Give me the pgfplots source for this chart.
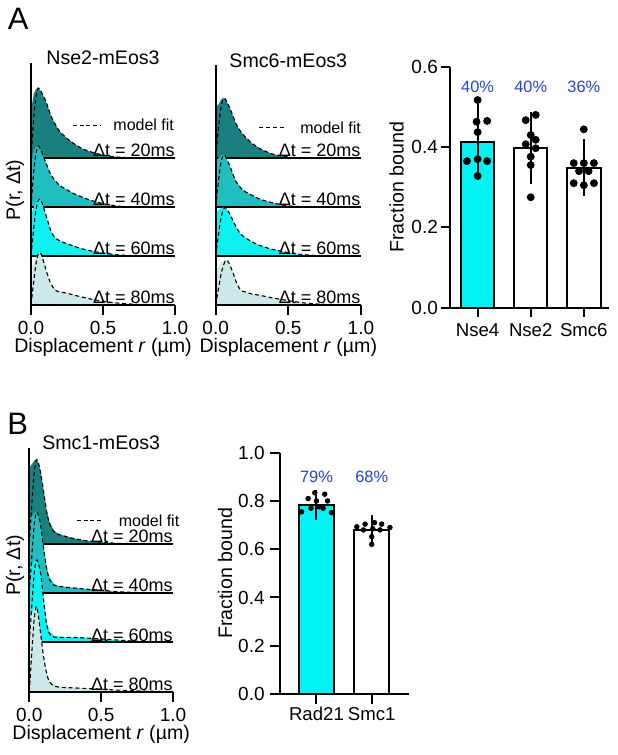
\documentclass[border=0pt]{standalone}
\usepackage{fontspec}
\setmainfont{Liberation Sans}
\usepackage{pgfplots}
\usepackage{pgfplotstable}
\pgfplotsset{compat=1.18}

\definecolor{cA}{HTML}{1A7F7F}
\definecolor{cB}{HTML}{20BEBE}
\definecolor{cC}{HTML}{0FF0F0}
\definecolor{cD}{HTML}{CDE8E8}
\definecolor{barcyan}{HTML}{00F2F2}
\definecolor{pctblue}{HTML}{2244DD}

\newcommand{\fs}[1]{\fontsize{#1}{#1}\selectfont}

% columns: a-d = measured histogram (20,40,60,80 ms), A-D = model fit
\pgfplotstableread{
r      a     b     c     d     A     B     C     D
0      0     0     0     0     0     0     0     0
0.001  1.00  0.90  0.85  0.75  0     0     0     0
0.02   1.32  1.15  1.00  0.85  0.85  0.75  0.60  0.50
0.035  1.41  1.23  1.10  0.97  1.25  1.10  0.95  0.85
0.05   1.43  1.25  1.16  1.05  1.43  1.25  1.13  1.03
0.065  1.38  1.18  1.14  1.06  1.38  1.18  1.16  1.07
0.08   1.30  1.08  1.04  0.95  1.30  1.08  1.06  0.96
0.1    1.18  0.93  0.87  0.76  1.18  0.93  0.87  0.76
0.12   1.02  0.78  0.68  0.57  1.02  0.78  0.68  0.57
0.14   0.85  0.65  0.50  0.42  0.85  0.65  0.50  0.42
0.17   0.68  0.53  0.36  0.30  0.68  0.53  0.36  0.30
0.2    0.54  0.44  0.31  0.27  0.54  0.44  0.31  0.27
0.25   0.40  0.35  0.25  0.24  0.40  0.35  0.25  0.24
0.3    0.29  0.27  0.20  0.20  0.29  0.27  0.20  0.20
0.35   0.20  0.21  0.15  0.165 0.20  0.21  0.15  0.165
0.4    0.14  0.15  0.115 0.13  0.14  0.15  0.115 0.13
0.5    0.06  0.07  0.06  0.075 0.06  0.07  0.06  0.075
0.6    0.02  0.02  0.025 0.04  0.02  0.02  0.025 0.04
0.7    0.005 0.005 0.008 0.018 0.005 0.005 0.008 0.018
0.85   0     0     0     0.004 0     0     0     0.004
1.0    0     0     0     0     0     0     0     0
}\nsetwo

\pgfplotstableread{
r      a     b     c     d     A     B     C     D
0      0     0     0     0     0     0     0     0
0.001  1.04  0.95  0.90  0.70  0     0     0     0
0.02   1.10  1.00  0.94  0.78  0.65  0.55  0.45  0.35
0.035  1.18  1.05  0.97  0.85  1.00  0.88  0.75  0.60
0.05   1.23  1.07  0.99  0.89  1.20  1.05  0.93  0.78
0.065  1.20  1.03  0.99  0.92  1.21  1.05  0.99  0.89
0.08   1.13  0.95  0.94  0.91  1.13  0.95  0.95  0.91
0.1    1.00  0.82  0.84  0.80  1.00  0.82  0.84  0.80
0.12   0.85  0.66  0.72  0.65  0.85  0.66  0.72  0.65
0.14   0.70  0.52  0.60  0.48  0.70  0.52  0.60  0.48
0.17   0.55  0.40  0.45  0.31  0.55  0.40  0.45  0.31
0.2    0.44  0.32  0.38  0.27  0.44  0.32  0.38  0.27
0.25   0.30  0.24  0.29  0.225 0.30  0.24  0.29  0.225
0.3    0.20  0.165 0.22  0.20  0.20  0.165 0.22  0.20
0.35   0.13  0.12  0.17  0.17  0.13  0.12  0.17  0.17
0.4    0.075 0.08  0.13  0.14  0.075 0.08  0.13  0.14
0.5    0.02  0.025 0.07  0.09  0.02  0.025 0.07  0.09
0.6    0.005 0.005 0.03  0.045 0.005 0.005 0.03  0.045
0.7    0     0     0.01  0.02  0     0     0.01  0.02
0.85   0     0     0.002 0.005 0     0     0.002 0.005
1.0    0     0     0     0     0     0     0     0
}\smcsix

\pgfplotstableread{
r      a     b     c     d     A     B     C     D
0      0     0     0     0     0     0     0     0
0.001  1.55  1.50  1.50  1.50  0     0     0     0
0.02   1.62  1.56  1.58  1.60  0.90  0.85  0.85  0.90
0.035  1.68  1.62  1.65  1.70  1.45  1.40  1.42  1.50
0.05   1.72  1.66  1.69  1.73  1.70  1.64  1.67  1.73
0.065  1.62  1.56  1.58  1.48  1.62  1.56  1.58  1.50
0.08   1.45  1.38  1.40  1.15  1.42  1.35  1.38  1.15
0.1    1.08  0.95  0.90  0.72  1.05  0.90  0.85  0.70
0.12   0.69  0.55  0.42  0.42  0.66  0.50  0.38  0.38
0.14   0.45  0.32  0.22  0.23  0.42  0.28  0.18  0.20
0.17   0.27  0.19  0.14  0.14  0.25  0.16  0.11  0.12
0.2    0.20  0.15  0.12  0.11  0.19  0.14  0.10  0.095
0.25   0.155 0.125 0.11  0.09  0.15  0.12  0.10  0.085
0.3    0.115 0.11  0.105 0.08  0.11  0.105 0.10  0.078
0.35   0.085 0.095 0.10  0.073 0.082 0.092 0.095 0.072
0.4    0.06  0.08  0.09  0.065 0.058 0.078 0.088 0.064
0.5    0.03  0.055 0.07  0.05  0.03  0.055 0.07  0.05
0.6    0.01  0.03  0.05  0.035 0.01  0.03  0.05  0.035
0.7    0.003 0.015 0.03  0.022 0.003 0.015 0.03  0.022
0.85   0     0.004 0.008 0.01  0     0.004 0.008 0.01
1.0    0     0     0     0.003 0     0     0     0.003
}\smcone

\tikzset{
  dtlab/.style={anchor=base east, inner sep=0pt, font=\fs{9}},
  fitleg/.style={black, line width=0.55pt, dash pattern=on 2pt off 1.4pt},
  ttl/.style={anchor=base, inner sep=0pt, font=\fs{9.8}, yshift=-1pt},
}

\pgfplotsset{
  distpanel/.style={
    scale only axis, width=72pt, height=121pt,
    xmin=0, xmax=1, ymin=0, ymax=4.94,
    axis x line*=bottom, axis y line*=left,
    axis line style={-, line width=1pt},
    xtick={0,0.5,1}, xticklabels={0.0,0.5,1.0}, ytick=\empty,
    tick align=outside, major tick length=5pt,
    tick style={black, line width=1pt},
    xticklabel style={font=\fs{9.5}, anchor=base, yshift=-10pt, inner sep=0pt},
    xlabel={Displacement \textit{r} (µm)},
    xlabel style={font=\fs{9.8}, at={(axis description cs:0.5,0)}, anchor=base, yshift=-24pt, inner sep=0pt},
    ylabel style={font=\fs{9.8}, anchor=center, inner sep=0pt},
    axis on top, clip mode=individual,
  },
  fillA/.style={fill=cA, draw=none},
  fillB/.style={fill=cB, draw=none},
  fillC/.style={fill=cC, draw=none},
  fillD/.style={fill=cD, draw=none},
  base/.style={black, line width=1pt},
  fit/.style={black, line width=0.55pt, dash pattern=on 2pt off 1.4pt, smooth, tension=0.5, skip coords between index={1}{2}},
  barpanel/.style={
    scale only axis,
    axis x line*=bottom, axis y line*=left,
    axis line style={-, line width=1pt},
    tick align=outside, major tick length=4.5pt,
    tick style={black, line width=1pt},
    xticklabel style={font=\fs{9.3}, anchor=base, inner sep=0pt},
    yticklabel style={font=\fs{9.5}, anchor=east, inner sep=0pt},
    ylabel={Fraction bound},
    ylabel style={font=\fs{9.8}, anchor=center, inner sep=0pt},
    clip=false,
  },
  errs/.style={error bars/.cd, y dir=both, y explicit,
    error bar style={black, line width=1pt},
    error mark options={black, line width=1pt, mark size=#1}},
}

\begin{document}
\begin{tikzpicture}
\useasboundingbox (0,0) rectangle (308.5pt,377.5pt);

\node[font=\fs{15.5}, anchor=base west, inner sep=0pt] at (3.8pt,362.5pt) {A};
\node[font=\fs{15.5}, anchor=base west, inner sep=0pt] at (3.5pt,160pt) {B};

% ---- A: Nse2 ----
\begin{axis}[distpanel, at={(15.5pt,225pt)}, anchor=south west,
  ylabel={P(r, Δt)},
  ylabel style={at={(axis description cs:-0.111,0.475)}}]
\addplot[fillA] table[x=r, y expr=\thisrow{a}+3] {\nsetwo} -- cycle;
\addplot[base] coordinates {(0,3) (1,3)};
\addplot[fillB] table[x=r, y expr=\thisrow{b}+2] {\nsetwo} -- cycle;
\addplot[base] coordinates {(0,2) (1,2)};
\addplot[fillC] table[x=r, y expr=\thisrow{c}+1] {\nsetwo} -- cycle;
\addplot[base] coordinates {(0,1) (1,1)};
\addplot[fillD] table[x=r, y expr=\thisrow{d}] {\nsetwo} -- cycle;
\addplot[fit] table[x=r, y expr=\thisrow{A}+3] {\nsetwo};
\addplot[fit] table[x=r, y expr=\thisrow{B}+2] {\nsetwo};
\addplot[fit] table[x=r, y expr=\thisrow{C}+1] {\nsetwo};
\addplot[fit] table[x=r, y expr=\thisrow{D}] {\nsetwo};
\node[ttl] at (axis description cs:0.5,1) {Nse2-mEos3};
\draw[fitleg] (axis cs:0.29,3.67) -- (axis cs:0.48,3.67);
\node[anchor=west, inner sep=0pt, font=\fs{8}] at (axis cs:0.57,3.67) {model fit};
\node[dtlab] at (axis cs:1,3.025) {Δt = 20ms};
\node[dtlab] at (axis cs:1,2.025) {Δt = 40ms};
\node[dtlab] at (axis cs:1,1.025) {Δt = 60ms};
\node[dtlab] at (axis cs:1,0.025) {Δt = 80ms};
\end{axis}

% ---- A: Smc6 ----
\begin{axis}[distpanel, at={(107.85pt,225pt)}, anchor=south west,
  width=72.6pt, height=120pt, ymax=4.9]
\addplot[fillA] table[x=r, y expr=\thisrow{a}+3] {\smcsix} -- cycle;
\addplot[base] coordinates {(0,3) (1,3)};
\addplot[fillB] table[x=r, y expr=\thisrow{b}+2] {\smcsix} -- cycle;
\addplot[base] coordinates {(0,2) (1,2)};
\addplot[fillC] table[x=r, y expr=\thisrow{c}+1] {\smcsix} -- cycle;
\addplot[base] coordinates {(0,1) (1,1)};
\addplot[fillD] table[x=r, y expr=\thisrow{d}] {\smcsix} -- cycle;
\addplot[fit] table[x=r, y expr=\thisrow{A}+3] {\smcsix};
\addplot[fit] table[x=r, y expr=\thisrow{B}+2] {\smcsix};
\addplot[fit] table[x=r, y expr=\thisrow{C}+1] {\smcsix};
\addplot[fit] table[x=r, y expr=\thisrow{D}] {\smcsix};
\node[ttl] at (axis description cs:0.5,1) {Smc6-mEos3};
\draw[fitleg] (axis cs:0.30,3.62) -- (axis cs:0.48,3.62);
\node[anchor=west, inner sep=0pt, font=\fs{8}] at (axis cs:0.58,3.62) {model fit};
\node[dtlab] at (axis cs:1,3.025) {Δt = 20ms};
\node[dtlab] at (axis cs:1,2.025) {Δt = 40ms};
\node[dtlab] at (axis cs:1,1.025) {Δt = 60ms};
\node[dtlab] at (axis cs:1,0.025) {Δt = 80ms};
\end{axis}

% ---- A: fraction bound ----
\begin{axis}[barpanel, at={(225pt,223.65pt)}, anchor=south west,
  width=79.65pt, height=120.5pt,
  xmin=-0.52, xmax=2.48, ymin=0, ymax=0.6,
  xtick={0,1,2}, xticklabels={Nse4,Nse2,Smc6},
  ytick={0,0.2,0.4,0.6}, yticklabels={0.0,0.2,0.4,0.6},
  xticklabel style={yshift=-10pt},
  yticklabel style={xshift=-1.35pt},
  ylabel style={at={(axis description cs:-0.335,0.5)}}]
\addplot[ybar, bar shift=0pt, bar width=0.63, fill=barcyan, draw=black, line width=1pt, errs=5.4pt]
  coordinates {(0,0.413) +- (0,0.067)};
\addplot[ybar, bar shift=0pt, bar width=0.63, fill=white, draw=black, line width=1pt, errs=5.4pt]
  coordinates {(1,0.398) +- (0,0.063) (2,0.349) +- (0,0.043)};
\addplot[only marks, mark=*, mark size=1.75pt, black] coordinates {
  (0,0.517) (-0.02,0.463) (0.18,0.465) (0,0.437) (-0.2,0.365) (0,0.37) (0.18,0.365) (0,0.328)
  (1.094,0.480) (0.906,0.467) (1,0.430) (1.094,0.418) (0.906,0.407) (1.094,0.397) (1,0.376) (1,0.355) (1,0.275)
  (2,0.444) (1.81,0.36) (2,0.36) (2.19,0.36) (1.91,0.34) (2.09,0.34) (1.81,0.31) (2,0.305) (2.19,0.31)
};
\node[font=\fs{8.2}, text=pctblue] at (axis cs:0,0.55) {40\%};
\node[font=\fs{8.2}, text=pctblue] at (axis cs:1,0.55) {40\%};
\node[font=\fs{8.2}, text=pctblue] at (axis cs:2,0.55) {36\%};
\end{axis}

% ---- B: Smc1 ----
\begin{axis}[distpanel, at={(14.65pt,31.65pt)}, anchor=south west,
  width=71.85pt, height=121.85pt,
  ylabel={P(r, Δt)},
  ylabel style={at={(axis description cs:-0.1,0.518)}}]
\addplot[fillA] table[x=r, y expr=\thisrow{a}+3] {\smcone} -- cycle;
\addplot[base] coordinates {(0,3) (1,3)};
\addplot[fillB] table[x=r, y expr=\thisrow{b}+2] {\smcone} -- cycle;
\addplot[base] coordinates {(0,2) (1,2)};
\addplot[fillC] table[x=r, y expr=\thisrow{c}+1] {\smcone} -- cycle;
\addplot[base] coordinates {(0,1) (1,1)};
\addplot[fillD] table[x=r, y expr=\thisrow{d}] {\smcone} -- cycle;
\addplot[fit] table[x=r, y expr=\thisrow{A}+3] {\smcone};
\addplot[fit] table[x=r, y expr=\thisrow{B}+2] {\smcone};
\addplot[fit] table[x=r, y expr=\thisrow{C}+1] {\smcone};
\addplot[fit] table[x=r, y expr=\thisrow{D}] {\smcone};
\node[ttl] at (axis description cs:0.5,1) {Smc1-mEos3};
\draw[fitleg] (axis cs:0.33,3.47) -- (axis cs:0.515,3.47);
\node[anchor=west, inner sep=0pt, font=\fs{8}] at (axis cs:0.62,3.47) {model fit};
\node[dtlab] at (axis cs:1,3.025) {Δt = 20ms};
\node[dtlab] at (axis cs:1,2.025) {Δt = 40ms};
\node[dtlab] at (axis cs:1,1.025) {Δt = 60ms};
\node[dtlab] at (axis cs:1,0.025) {Δt = 80ms};
\end{axis}

% ---- B: fraction bound ----
\begin{axis}[barpanel, at={(140pt,30.5pt)}, anchor=south west,
  width=64.65pt, height=120.65pt,
  xmin=-0.66, xmax=1.68, ymin=0, ymax=1,
  xtick={0,1}, xticklabels={Rad21,Smc1},
  ytick={0,0.2,0.4,0.6,0.8,1}, yticklabels={0.0,0.2,0.4,0.6,0.8,1.0},
  major tick length=5pt,
  xticklabel style={yshift=-8pt},
  yticklabel style={xshift=-2.5pt},
  ylabel style={at={(axis description cs:-0.425,0.5)}}]
\addplot[ybar, bar shift=0pt, bar width=0.63, fill=barcyan, draw=black, line width=1pt, errs=4.2pt]
  coordinates {(0,0.782) +- (0,0.028)};
\addplot[ybar, bar shift=0pt, bar width=0.63, fill=white, draw=black, line width=1pt, errs=4.2pt]
  coordinates {(1,0.679) +- (0,0.030)};
\addplot[only marks, mark=*, mark size=1.15pt, black] coordinates {
  (-0.03,0.834) (0.15,0.828) (-0.15,0.81) (0.2,0.80) (-0.27,0.755) (0.27,0.752) (-0.1,0.77) (0.05,0.776) (0.12,0.77) (0,0.80)
  (0.73,0.693) (0.88,0.704) (1.05,0.71) (1.18,0.704) (1.33,0.69) (0.85,0.68) (1.02,0.685) (1.15,0.68) (1,0.652) (1,0.62)
};
\node[font=\fs{8.2}, text=pctblue] at (axis cs:0,0.898) {79\%};
\node[font=\fs{8.2}, text=pctblue] at (axis cs:1,0.898) {68\%};
\end{axis}
\end{tikzpicture}
\end{document}
